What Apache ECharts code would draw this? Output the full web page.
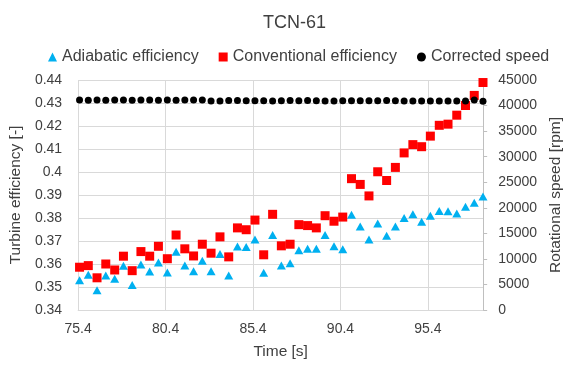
<!DOCTYPE html>
<html>
<head>
<meta charset="utf-8">
<script src="https://cdn.jsdelivr.net/npm/echarts@6/dist/echarts.min.js"></script>
<style>
  html, body { margin: 0; padding: 0; background: #fff; }
  #chart { width: 572px; height: 365px; }
</style>
</head>
<body>
<div id="chart"></div>
<script>
// time [s]
var times = [
  75.48, 75.98, 76.48, 76.98, 77.49, 77.99, 78.49, 78.99, 79.49, 79.99,
  80.50, 81.00, 81.50, 82.00, 82.50, 83.00, 83.51, 84.01, 84.51, 85.01,
  85.51, 86.01, 86.52, 87.02, 87.52, 88.02, 88.52, 89.02, 89.52, 90.03,
  90.53, 91.03, 91.53, 92.03, 92.53, 93.04, 93.54, 94.04, 94.54, 95.04,
  95.54, 96.05, 96.55, 97.05, 97.55, 98.05, 98.55
];
var adiabatic = [
  0.3529, 0.3553, 0.3486, 0.3550, 0.3536, 0.3592, 0.3509, 0.3598, 0.3567, 0.3606,
  0.3563, 0.3653, 0.3593, 0.3568, 0.3614, 0.3568, 0.3643, 0.3550, 0.3676, 0.3674,
  0.3706, 0.3562, 0.3726, 0.3593, 0.3603, 0.3660, 0.3666, 0.3666, 0.3726, 0.3677,
  0.3664, 0.3814, 0.3763, 0.3707, 0.3776, 0.3723, 0.3763, 0.3800, 0.3816, 0.3784,
  0.3810, 0.3830, 0.3829, 0.3820, 0.3849, 0.3866, 0.3893
];
var conventional = [
  0.3586, 0.3593, 0.3540, 0.3600, 0.3574, 0.3634, 0.3571, 0.3654, 0.3634, 0.3677,
  0.3623, 0.3726, 0.3666, 0.3635, 0.3686, 0.3647, 0.3718, 0.3631, 0.3757, 0.3749,
  0.3791, 0.3640, 0.3816, 0.3679, 0.3686, 0.3771, 0.3767, 0.3757, 0.3810, 0.3786,
  0.3804, 0.3971, 0.3946, 0.3896, 0.4001, 0.3963, 0.4020, 0.4083, 0.4119, 0.4110,
  0.4156, 0.4203, 0.4208, 0.4247, 0.4289, 0.4333, 0.4389
];
// corrected speed [rpm]
var speed = [
  41080, 41050, 41090, 41060, 41070, 41080, 41050, 41090, 41070, 41060,
  41080, 41050, 41070, 41090, 41110, 40880, 40900, 41000, 41010, 40950,
  40940, 40950, 40900, 40950, 41010, 40940, 41010, 40950, 40880, 40890,
  40950, 40940, 40950, 40940, 40950, 41010, 40940, 40880, 40890, 40880,
  40870, 40880, 40890, 40880, 40870, 41070, 40820
];

function pairs(ys) {
  return times.map(function (t, i) { return [t, ys[i]]; });
}

var txt = "#404040";
var font = "Liberation Sans";
var chart = echarts.init(document.getElementById("chart"));
chart.setOption({
  animation: false,
  textStyle: { fontFamily: font },
  title: {
    text: "TCN-61",
    left: 258,
    top: 9,
    textStyle: { color: txt, fontSize: 18, fontWeight: "normal", fontFamily: font }
  },
  legend: {
    left: 43,
    top: 44,
    itemWidth: 9,
    itemHeight: 9,
    itemGap: 20,
    textStyle: { color: txt, fontSize: 16, fontFamily: font },
    data: [
      { name: "Adiabatic efficiency", icon: "triangle" },
      { name: "Conventional efficiency", icon: "rect" },
      { name: "Corrected speed", icon: "circle" }
    ]
  },
  grid: { left: 73.3, right: 76.3, top: 80, bottom: 51.7, containLabel: false },
  xAxis: {
    type: "value",
    min: 75.4,
    max: 98.56,
    interval: 5,
    name: "Time [s]",
    nameLocation: "middle",
    nameGap: 34,
    nameTextStyle: { color: txt, fontSize: 15.5, fontFamily: font },
    axisLine: { show: true, lineStyle: { color: "#D9D9D9" } },
    axisTick: { show: false },
    axisLabel: { color: txt, fontSize: 14, margin: 12, showMaxLabel: false },
    splitLine: { show: true, lineStyle: { color: "#D9D9D9" } }
  },
  yAxis: [
    {
      type: "value",
      min: 0.34,
      max: 0.44,
      interval: 0.01,
      name: "Turbine efficiency [-]",
      nameLocation: "middle",
      nameGap: 47,
      nameRotate: 90,
      nameTextStyle: { color: txt, fontSize: 15.5, fontFamily: font },
      axisLine: { show: false },
      axisTick: { show: false },
      axisLabel: { color: txt, fontSize: 14, margin: 16 },
      splitLine: { show: true, lineStyle: { color: "#D9D9D9" } }
    },
    {
      type: "value",
      position: "right",
      min: 0,
      max: 45000,
      interval: 5000,
      name: "Rotational speed [rpm]",
      nameLocation: "middle",
      nameGap: 61,
      nameRotate: 90,
      nameTextStyle: { color: txt, fontSize: 15.5, fontFamily: font },
      axisLine: { show: true, lineStyle: { color: "#BFBFBF" } },
      axisTick: { show: true, length: 4, lineStyle: { color: "#BFBFBF" } },
      axisLabel: {
        color: txt, fontSize: 14, margin: 15,
        formatter: function (v) { return String(v); }
      },
      splitLine: { show: false }
    }
  ],
  series: [
    {
      name: "Adiabatic efficiency",
      type: "scatter",
      symbol: "triangle",
      symbolSize: [9, 8],
      itemStyle: { color: "#00B0F0", opacity: 1 },
      data: pairs(adiabatic)
    },
    {
      name: "Conventional efficiency",
      type: "scatter",
      symbol: "rect",
      symbolSize: 9,
      itemStyle: { color: "#FF0000", opacity: 1 },
      data: pairs(conventional)
    },
    {
      name: "Corrected speed",
      type: "scatter",
      yAxisIndex: 1,
      symbol: "circle",
      symbolSize: 7,
      itemStyle: { color: "#000000", opacity: 1 },
      data: pairs(speed)
    }
  ]
});
</script>
</body>
</html>
